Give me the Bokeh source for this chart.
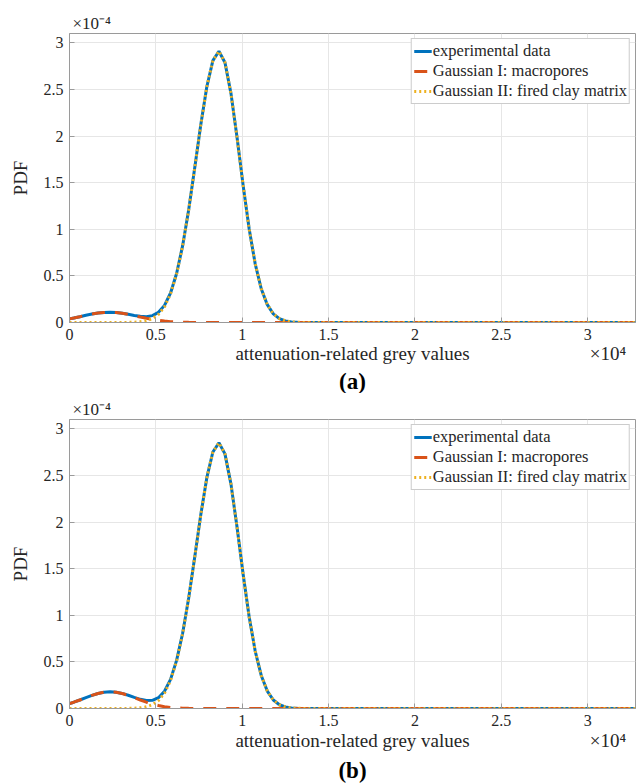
from bokeh.plotting import figure
from bokeh.models import Legend, LegendItem, Title, FixedTicker, LinearAxis, Range1d
from bokeh.layouts import column
from bokeh.embed import file_html
from bokeh.resources import INLINE

# attenuation-related grey values (sample positions)
grey_values = [0, 250, 600, 950, 1300, 1650, 2000, 2350, 2700, 3050, 3400, 3750, 4100, 4450,
               4800, 5150, 5500, 5850, 6200, 6550, 6900, 7250, 7600, 7950, 8300, 8650, 9000,
               9350, 9700, 10050, 10400, 10750, 11100, 11450, 11800, 12150, 12500, 12850,
               13200, 13550, 13900, 14250, 14600, 14950, 15300, 20000, 25000, 30000, 32767]

# PDF values in units of 1e-4
a_experimental = [0.0391, 0.0484, 0.0626, 0.0771, 0.0905, 0.1013, 0.1081, 0.1099, 0.1067, 0.0990,
                  0.0879, 0.0760, 0.0661, 0.0630, 0.0739, 0.1090, 0.1837, 0.3162, 0.5254, 0.8241,
                  1.2103, 1.6591, 2.1213, 2.5285, 2.8096, 2.9100, 2.7888, 2.4547, 1.9844, 1.4734,
                  1.0048, 0.6293, 0.3620, 0.1913, 0.0928, 0.0414, 0.0169, 0.0064, 0.0022, 0.0007,
                  0.0002, 0, 0, 0, 0, 0, 0, 0, 0]
a_gauss1 = [0.0391, 0.0484, 0.0626, 0.0771, 0.0905, 0.1013, 0.1081, 0.1099, 0.1066, 0.0986,
            0.0868, 0.0730, 0.0584, 0.0446, 0.0325, 0.0225, 0.0149, 0.0094, 0.0056, 0.0032,
            0.0018, 0.0009, 0.0005, 0.0002, 0.0001, 0, 0, 0, 0, 0,
            0, 0, 0, 0, 0, 0, 0, 0, 0, 0,
            0, 0, 0, 0, 0, 0, 0, 0, 0]
a_gauss2 = [0, 0, 0, 0, 0, 0, 0, 0, 0.0001, 0.0004,
            0.0011, 0.0030, 0.0077, 0.0184, 0.0414, 0.0865, 0.1688, 0.3068, 0.5198, 0.8209,
            1.2085, 1.6582, 2.1208, 2.5283, 2.8095, 2.9100, 2.7888, 2.4547, 1.9844, 1.4734,
            1.0048, 0.6293, 0.3620, 0.1913, 0.0928, 0.0414, 0.0169, 0.0064, 0.0022, 0.0007,
            0.0002, 0, 0, 0, 0, 0, 0, 0, 0]

b_experimental = [0.0528, 0.0676, 0.0911, 0.1164, 0.1409, 0.1614, 0.1752, 0.1800, 0.1753, 0.1618,
                  0.1419, 0.1193, 0.0986, 0.0857, 0.0879, 0.1163, 0.1851, 0.3123, 0.5158, 0.8076,
                  1.1853, 1.6249, 2.0775, 2.4764, 2.7517, 2.8500, 2.7313, 2.4041, 1.9435, 1.4430,
                  0.9841, 0.6163, 0.3545, 0.1873, 0.0909, 0.0405, 0.0166, 0.0062, 0.0022, 0.0007,
                  0.0002, 0, 0, 0, 0, 0, 0, 0, 0]
b_gauss1 = [0.0528, 0.0676, 0.0911, 0.1164, 0.1409, 0.1614, 0.1752, 0.1800, 0.1752, 0.1614,
            0.1409, 0.1164, 0.0911, 0.0676, 0.0474, 0.0315, 0.0198, 0.0118, 0.0067, 0.0036,
            0.0018, 0.0009, 0.0004, 0.0002, 0.0001, 0, 0, 0, 0, 0,
            0, 0, 0, 0, 0, 0, 0, 0, 0, 0,
            0, 0, 0, 0, 0, 0, 0, 0, 0]
b_gauss2 = [0, 0, 0, 0, 0, 0, 0, 0, 0.0001, 0.0004,
            0.0010, 0.0029, 0.0075, 0.0181, 0.0405, 0.0848, 0.1653, 0.3005, 0.5091, 0.8040,
            1.1835, 1.6240, 2.0771, 2.4762, 2.7516, 2.8500, 2.7313, 2.4041, 1.9435, 1.4430,
            0.9841, 0.6163, 0.3545, 0.1873, 0.0909, 0.0405, 0.0166, 0.0062, 0.0022, 0.0007,
            0.0002, 0, 0, 0, 0, 0, 0, 0, 0]

series_names = ["experimental data", "Gaussian I: macropores", "Gaussian II: fired clay matrix"]
x_tick_values = [0, 5000, 10000, 15000, 20000, 25000, 30000]
x_tick_labels = ["0", "0.5", "1", "1.5", "2", "2.5", "3"]
y_tick_values = [0, 0.5, 1, 1.5, 2, 2.5, 3]
y_tick_labels = ["0", "0.5", "1", "1.5", "2", "2.5", "3"]
x_title = "attenuation-related grey values"
y_title = "PDF"
x_multiplier = "×10⁴"
y_multiplier = "×10⁻⁴"
panel_tags = ["(a)", "(b)"]

X_MAX = 32767
Y_MAX = 3.1
X_TITLE_POS = 16383.5   # centre of the x range, where the x title sits
X_MULT_POS = 31170      # where the x multiplier sits
FONT = "Liberation Serif"
TXT = "#262626"
AXC = "#9a9a9a"
GRID = "#e6e6e6"
BLUE = "#0072BD"
RED = "#D95319"
YELLOW = "#EDB120"


def make_panel(exp_v, g1_v, g2_v, tag, top, bottom, title_gap, tag_gap):
    p = figure(frame_width=566, frame_height=289,
               x_range=Range1d(0, X_MAX), y_range=Range1d(0, Y_MAX),
               output_backend="svg", toolbar_location=None,
               min_border_left=69, min_border_right=1,
               min_border_top=top, min_border_bottom=bottom,
               background_fill_color="white", border_fill_color="white")
    p.outline_line_color = AXC
    p.outline_line_width = 1

    p.xaxis.ticker = FixedTicker(ticks=x_tick_values)
    p.yaxis.ticker = FixedTicker(ticks=y_tick_values)
    p.xaxis.major_label_overrides = dict(zip(x_tick_values, x_tick_labels))
    p.yaxis.major_label_overrides = dict(zip(y_tick_values, y_tick_labels))
    for ax in (p.xaxis[0], p.yaxis[0]):
        ax.major_tick_in = 5
        ax.major_tick_out = 0
        ax.minor_tick_in = 0
        ax.minor_tick_out = 0
        ax.axis_line_color = AXC
        ax.major_tick_line_color = AXC
        ax.major_label_text_font = FONT
        ax.major_label_text_font_size = "16px"
        ax.major_label_text_color = TXT
        ax.axis_label_text_font = FONT
        ax.axis_label_text_font_size = "19px"
        ax.axis_label_text_font_style = "normal"
        ax.axis_label_text_color = TXT
    p.xaxis.major_label_standoff = 6
    p.yaxis.major_label_standoff = 6
    p.yaxis.axis_label = y_title
    p.yaxis.axis_label_standoff = 10

    # x title row: title centred and multiplier at the right, on one line
    title_axis = LinearAxis(ticker=FixedTicker(ticks=[X_TITLE_POS, X_MULT_POS]),
                            major_label_overrides={X_TITLE_POS: x_title, X_MULT_POS: x_multiplier},
                            axis_line_color=None, major_tick_line_color=None,
                            minor_tick_line_color=None, major_tick_in=0, major_tick_out=0,
                            minor_tick_in=0, minor_tick_out=0, major_label_standoff=title_gap,
                            major_label_text_font=FONT, major_label_text_font_size="19px",
                            major_label_text_color=TXT)
    p.add_layout(title_axis, "below")

    # y multiplier above the top-left corner
    p.add_layout(Title(text=y_multiplier, align="left", offset=3, standoff=2,
                       text_font=FONT, text_font_size="17px", text_font_style="normal",
                       text_color=TXT), "above")
    # panel tag
    p.add_layout(Title(text=tag, align="center", standoff=tag_gap,
                       text_font=FONT, text_font_size="23px", text_font_style="bold",
                       text_color="black"), "below")

    p.xgrid.ticker = FixedTicker(ticks=x_tick_values)
    p.ygrid.ticker = FixedTicker(ticks=y_tick_values)
    p.xgrid.grid_line_color = GRID
    p.ygrid.grid_line_color = GRID

    r1 = p.line(grey_values, exp_v, line_color=BLUE, line_width=3)
    r2 = p.line(grey_values, g1_v, line_color=RED, line_width=3, line_dash="13 10")
    r3 = p.line(grey_values, g2_v, line_color=YELLOW, line_width=3, line_dash="2 3")

    legend = Legend(items=[LegendItem(label=series_names[0], renderers=[r1]),
                           LegendItem(label=series_names[1], renderers=[r2]),
                           LegendItem(label=series_names[2], renderers=[r3])],
                    location="top_right", margin=5, padding=2, spacing=0,
                    label_standoff=1, glyph_width=18, glyph_height=18, label_height=18,
                    label_text_font=FONT, label_text_font_size="16.5px",
                    label_text_color=TXT, border_line_color=AXC,
                    background_fill_color="white", background_fill_alpha=1)
    p.add_layout(legend)
    return p


pa = make_panel(a_experimental, a_gauss1, a_gauss2, panel_tags[0], 33, 70, 0, 0)
pb = make_panel(b_experimental, b_gauss1, b_gauss2, panel_tags[1], 26, 77, 1, 5)

layout = column(pa, pb, spacing=0)
open("out.html", "w").write(file_html(layout, INLINE))
